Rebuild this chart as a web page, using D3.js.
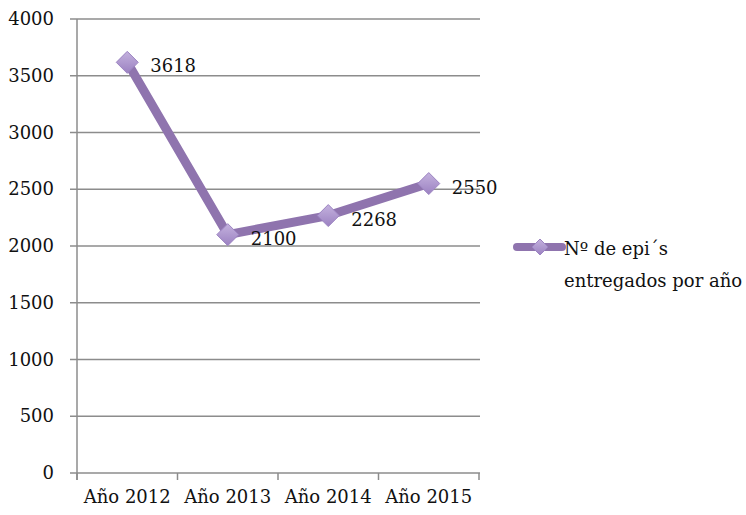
<!DOCTYPE html>
<html><head><meta charset="utf-8">
<script src="https://cdn.jsdelivr.net/npm/d3@7"></script>
<style>body{margin:0;background:#fff}svg{display:block}text{font-family:"DejaVu Serif",serif;fill:#111}</style>
</head><body>
<script>
const categories = ["Año 2012","Año 2013","Año 2014","Año 2015"];
const values = [3618,2100,2268,2550];
const yTicks = [0,500,1000,1500,2000,2500,3000,3500,4000];
const seriesName = ["Nº de epi´s","entregados por año"];

const W=746,H=515;
const svg=d3.select("body").append("svg").attr("width",W).attr("height",H);
const x=d3.scaleBand().domain(categories).range([77,479]);
const y=d3.scaleLinear().domain([0,4000]).range([473,19]);
const fs=18;

svg.append("g").selectAll("line").data(yTicks).join("line")
 .attr("x1",70).attr("x2",480).attr("y1",d=>y(d)).attr("y2",d=>y(d))
 .attr("stroke","#8c8c8c").attr("stroke-width",1.5);
svg.append("line").attr("x1",77).attr("x2",77).attr("y1",y(4000)).attr("y2",y(0)+7)
 .attr("stroke","#8c8c8c").attr("stroke-width",1.5);
const xt=categories.map(c=>x(c)).concat([x(categories[categories.length-1])+x.bandwidth()]);
svg.append("g").selectAll("line").data(xt).join("line")
 .attr("x1",d=>d).attr("x2",d=>d).attr("y1",y(0)).attr("y2",y(0)+7)
 .attr("stroke","#8c8c8c").attr("stroke-width",1.5);
svg.append("g").selectAll("text").data(yTicks).join("text")
 .attr("x",54).attr("y",d=>y(d)+6).attr("text-anchor","end").attr("font-size",fs).text(d=>d);
svg.append("g").selectAll("text").data(categories).join("text")
 .attr("x",d=>x(d)+x.bandwidth()/2).attr("y",503).attr("text-anchor","middle").attr("font-size",fs).text(d=>d);

const defs=svg.append("defs");
const g=defs.append("linearGradient").attr("id","mk").attr("x1",0).attr("y1",0).attr("x2",0).attr("y2",1);
g.append("stop").attr("offset","0%").attr("stop-color","#c4b2de");
g.append("stop").attr("offset","100%").attr("stop-color","#9b81c1");

const pts=values.map((v,i)=>[x(categories[i])+x.bandwidth()/2,y(v)]);
svg.append("path").attr("d",d3.line()(pts)).attr("fill","none")
 .attr("stroke","#8f74ae").attr("stroke-width",9).attr("stroke-linejoin","round");
const dia=(cx,cy,r)=>`M${cx},${cy-r}L${cx+r},${cy}L${cx},${cy+r}L${cx-r},${cy}Z`;
svg.append("g").selectAll("path").data(pts).join("path")
 .attr("d",d=>dia(d[0],d[1],11)).attr("fill","url(#mk)").attr("stroke","#9c84c2").attr("stroke-width",1);
svg.append("g").selectAll("text").data(values).join("text")
 .attr("x",(d,i)=>pts[i][0]+23).attr("y",(d,i)=>pts[i][1]+10).attr("font-size",fs).text(d=>d);

svg.append("line").attr("x1",517).attr("x2",562).attr("y1",247).attr("y2",247)
 .attr("stroke","#8f74ae").attr("stroke-width",8).attr("stroke-linecap","round");
svg.append("path").attr("d",dia(540,247,8)).attr("fill","url(#mk)").attr("stroke","#9c84c2");
svg.append("text").attr("x",564).attr("y",255).attr("font-size",fs).text(seriesName[0]);
svg.append("text").attr("x",564).attr("y",287).attr("font-size",fs).text(seriesName[1]);
</script>
</body></html>
